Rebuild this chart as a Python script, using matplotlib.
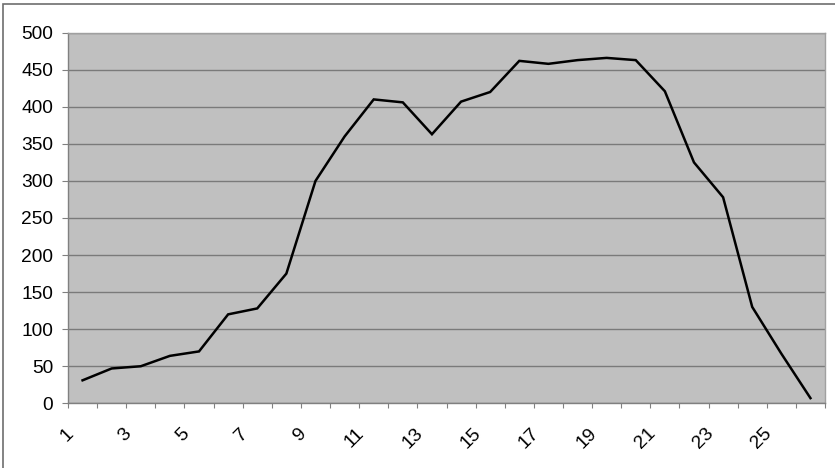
import matplotlib

matplotlib.use("Agg")
import matplotlib.pyplot as plt
import matplotlib.transforms as mtransforms
import numpy as np
from matplotlib.patches import Rectangle

# Values (one point per category 1..26)
categories = list(range(1, 27))
values = [
    31, 47, 50, 64, 70, 120, 128, 175, 300, 360,
    410, 406, 363, 407, 420, 462, 458, 463, 466, 463,
    421, 325, 278, 130, 67, 7,
]
y_ticks = list(range(0, 501, 50))
x_tick_labels = [str(c) if c % 2 == 1 else "" for c in categories]

plt.rcParams["font.family"] = ["Liberation Sans", "DejaVu Sans"]

fig = plt.figure(figsize=(8.35, 4.68), dpi=100)
ax = fig.add_axes([68 / 835, 1 - 403.3 / 468, (825 - 68) / 835, (403.3 - 32.7) / 468])

ax.set_facecolor("#C0C0C0")
ax.plot(categories, values, color="black", linewidth=1.8, solid_joinstyle="miter", zorder=3)

ax.set_xlim(0.5, len(categories) + 0.5)
ax.set_ylim(0, 500)

# horizontal gridlines
ax.set_yticks(y_ticks)
ax.yaxis.grid(True, color="#7a7a7a", linewidth=1.0)
ax.set_axisbelow(True)
ax.tick_params(axis="y", direction="out", length=4.3, width=0.8, color="#808080",
               pad=6.5, labelsize=13.8, labelcolor="black")

# category boundaries get the tick marks, labels sit near the category centres
ax.set_xticks(np.arange(0.5, len(categories) + 1, 1.0), minor=True)
ax.set_xticks(categories)
ax.set_xticklabels(x_tick_labels)
ax.tick_params(axis="x", which="minor", direction="out", length=3.8, width=0.8, color="#808080")
ax.tick_params(axis="x", which="major", length=0, pad=20, labelsize=13.8)
shift = mtransforms.ScaledTranslation(-12 / 100, 0, fig.dpi_scale_trans)
for label in ax.get_xticklabels():
    label.set_rotation(45)
    label.set_rotation_mode("anchor")
    label.set_ha("right")
    label.set_va("center")
    label.set_transform(label.get_transform() + shift)

for side in ("left", "bottom"):
    ax.spines[side].set_color("#808080")
    ax.spines[side].set_linewidth(1.0)
for side in ("top", "right"):
    ax.spines[side].set_color("#a0a0a0")
    ax.spines[side].set_linewidth(1.0)

# chart-area frame (right and bottom edges fall outside the image)
fig.patches.append(Rectangle((3 / 835, -0.05), 1.1, 1 - 4 / 468 + 0.05,
                             transform=fig.transFigure, fill=False,
                             edgecolor="#6e6e6e", linewidth=1.2))

fig.savefig("out.png", dpi=100)
